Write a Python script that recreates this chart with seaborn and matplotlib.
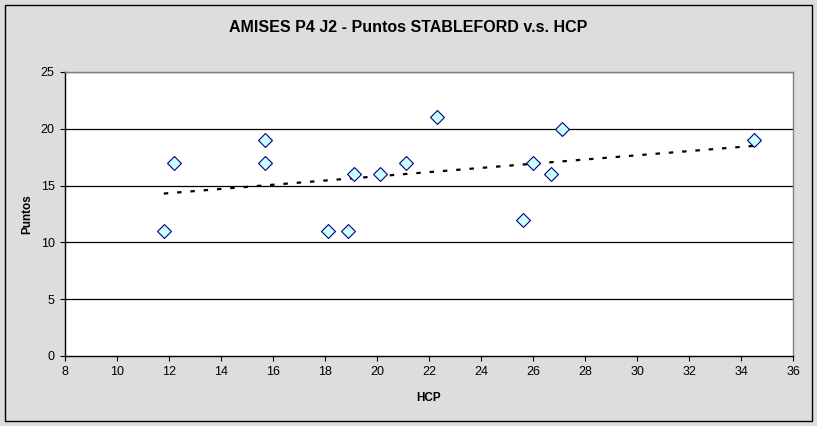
import matplotlib
matplotlib.use("Agg")
import matplotlib.pyplot as plt
import seaborn as sns
import pandas as pd
from matplotlib.patches import Rectangle

# Datos
hcp = [11.8, 12.2, 15.7, 15.7, 18.1, 18.9, 19.1, 20.1, 21.1, 22.3, 25.6, 26.0, 26.7, 27.1, 34.5]
puntos = [11, 17, 19, 17, 11, 11, 16, 16, 17, 21, 12, 17, 16, 20, 19]
x_ticks = list(range(8, 37, 2))
y_ticks = list(range(0, 26, 5))

df = pd.DataFrame({"HCP": hcp, "Puntos": puntos})

sns.set_style("white")
plt.rcParams["font.family"] = ["Liberation Sans", "DejaVu Sans"]
plt.rcParams["text.color"] = "black"
plt.rcParams["axes.labelcolor"] = "black"
plt.rcParams["xtick.color"] = "black"
plt.rcParams["ytick.color"] = "black"

W, H = 817, 426
fig = plt.figure(figsize=(W / 100, H / 100), dpi=100)
fig.patch.set_facecolor("#DDDDDD")
fig.patches.append(Rectangle((5 / W, 5 / H), 807 / W, 416 / H, transform=fig.transFigure,
                             fill=False, edgecolor="black", linewidth=1.0))

ax = fig.add_axes([65 / W, 1 - 356 / H, (793 - 65) / W, (356 - 72) / H])
ax.set_facecolor("white")

# gridlines horizontales
for y in y_ticks[1:]:
    ax.axhline(y, color="black", linewidth=0.9, zorder=1)

# línea de tendencia (regresión lineal)
sns.regplot(data=df, x="HCP", y="Puntos", scatter=False, ci=None, ax=ax,
            line_kws={"color": "black", "linewidth": 1.6, "linestyle": (0, (2, 4)), "zorder": 2})

sns.scatterplot(data=df, x="HCP", y="Puntos", ax=ax, marker="D", s=50,
                color="#CCFFFF", edgecolor="#000080", linewidth=0.8, zorder=3)

ax.set_xlim(8, 36)
ax.set_ylim(0, 25)
ax.set_xticks(x_ticks)
ax.set_yticks(y_ticks)
ax.tick_params(direction="out", length=3.5, width=0.8, colors="black", labelsize=9, pad=4,
               bottom=True, left=True)

for side in ["left", "bottom"]:
    ax.spines[side].set_color("black")
    ax.spines[side].set_linewidth(1.0)
for side in ["top", "right"]:
    ax.spines[side].set_visible(True)
    ax.spines[side].set_color("#808080")
    ax.spines[side].set_linewidth(1.0)

ax.set_xlabel("HCP", fontsize=8.5, fontweight="bold", labelpad=10, color="black")
ax.set_ylabel("Puntos", fontsize=8.5, fontweight="bold", labelpad=5, color="black")

fig.text(0.5, 1 - 27 / H, "AMISES P4 J2 - Puntos STABLEFORD v.s. HCP",
         ha="center", va="center", fontsize=11.5, fontweight="bold", color="black")

fig.savefig("out.png", dpi=100, facecolor=fig.get_facecolor())
